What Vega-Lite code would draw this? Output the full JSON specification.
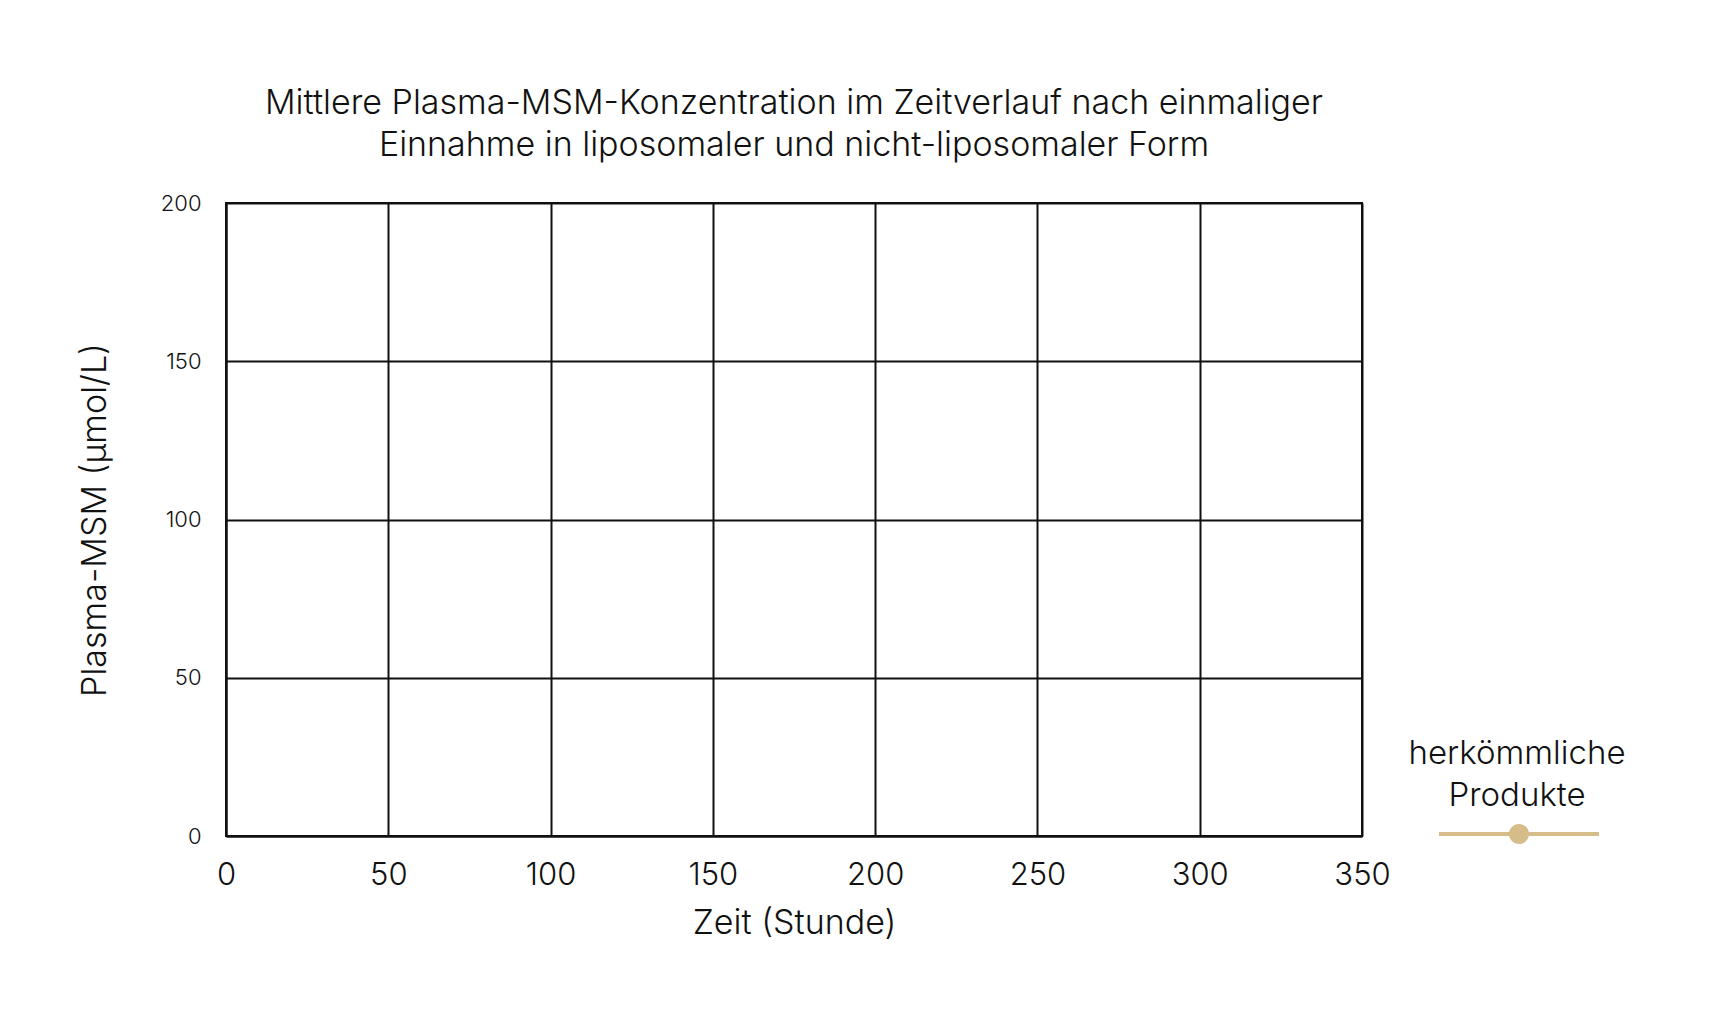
{
  "$schema": "https://vega.github.io/schema/vega-lite/v6.json",
  "width": 1136,
  "height": 633,
  "autosize": {"type": "none"},
  "padding": {"left": 226, "top": 203, "right": 357, "bottom": 193},
  "background": "white",
  "title": {
    "text": ["Mittlere Plasma-MSM-Konzentration im Zeitverlauf nach einmaliger", "Einnahme in liposomaler und nicht-liposomaler Form"],
    "anchor": "middle",
    "frame": "group",
    "font": "Inter",
    "fontSize": 34,
    "fontWeight": 300,
    "lineHeight": 42,
    "color": "#111111",
    "offset": 29
  },
  "data": {
    "values": [
      {"zeit": null, "msm": null, "produkt": "herkömmliche Produkte"}
    ]
  },
  "mark": {"type": "line", "strokeWidth": 4, "point": {"filled": true, "size": 300}},
  "encoding": {
    "x": {
      "field": "zeit",
      "type": "quantitative",
      "scale": {"domain": [0, 350], "nice": false, "zero": false},
      "axis": {
        "title": "Zeit (Stunde)",
        "values": [0, 50, 100, 150, 200, 250, 300, 350],
        "ticks": false,
        "labelFlush": false,
        "labelPadding": 24,
        "labelFontSize": 31,
        "titleFontSize": 34,
        "titlePadding": 16
      }
    },
    "y": {
      "field": "msm",
      "type": "quantitative",
      "scale": {"domain": [0, 200], "nice": false, "zero": false},
      "axis": {
        "title": "Plasma-MSM (µmol/L)",
        "values": [0, 50, 100, 150, 200],
        "ticks": false,
        "labelPadding": 25,
        "labelFontSize": 22,
        "titleFontSize": 34,
        "titlePadding": 48
      }
    },
    "color": {
      "field": "produkt",
      "type": "nominal",
      "scale": {"domain": ["herkömmliche Produkte"], "range": ["#d5bc89"]},
      "legend": {
        "orient": "none",
        "legendX": 1182,
        "legendY": 535,
        "title": ["herkömmliche", "Produkte"],
        "titleFontSize": 33,
        "titleFontWeight": 300,
        "titleFont": "Inter",
        "titleColor": "#111111",
        "titleLineHeight": 42,
        "titleLimit": 500,
        "titleAnchor": "middle",
        "titleAlign": "center",
        "titleBaseline": "top",
        "titlePadding": 11,
        "padding": 0,
        "labelExpr": "''",
        "symbolType": "M-8,-0.2H8V0.2H-8Z M-1,0A1,1 0 1,1 1,0A1,1 0 1,1 -1,0Z",
        "symbolSize": 400,
        "symbolOffset": 75,
        "symbolStrokeWidth": 0,
        "symbolFillColor": "#d5bc89",
        "encode": {
          "symbols": {
            "update": {
              "fill": {"value": "#d5bc89"},
              "stroke": {"value": "#d5bc89"},
              "strokeWidth": {"value": 0},
              "opacity": {"value": 1}
            }
          }
        }
      }
    }
  },
  "config": {
    "font": "Inter",
    "view": {"stroke": "#111111", "strokeWidth": 2},
    "axis": {
      "grid": true,
      "gridColor": "#111111",
      "gridWidth": 2,
      "gridOpacity": 1,
      "domainColor": "#111111",
      "domainWidth": 2,
      "labelColor": "#111111",
      "labelFont": "Inter",
      "labelFontWeight": 300,
      "titleFont": "Inter",
      "titleFontWeight": 300,
      "titleColor": "#111111"
    }
  }
}
